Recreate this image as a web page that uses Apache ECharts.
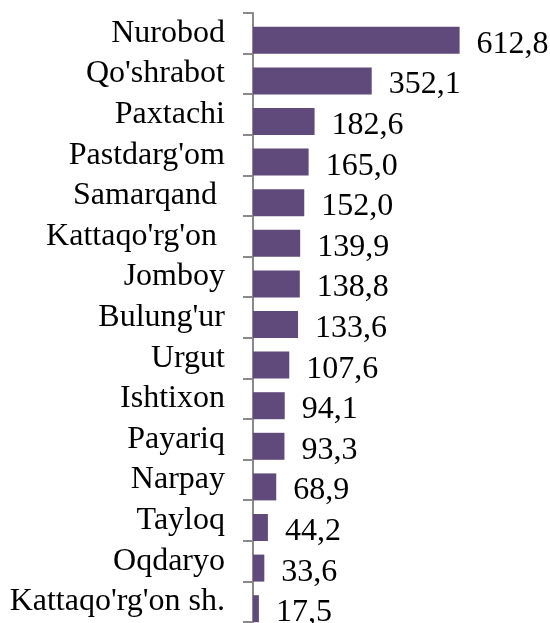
<!DOCTYPE html>
<html>
<head>
<meta charset="utf-8">
<script src="https://cdn.jsdelivr.net/npm/echarts@6/dist/echarts.min.js"></script>
<style>
  html, body { margin: 0; padding: 0; background: #fff; }
  #chart { width: 550px; height: 623px; }
</style>
</head>
<body>
<div id="chart"></div>
<script>
// tumanlar
var districts = ['Nurobod', "Qo'shrabot", 'Paxtachi', "Pastdarg'om", 'Samarqand ', "Kattaqo'rg'on ",
  'Jomboy', "Bulung'ur", 'Urgut', 'Ishtixon', 'Payariq', 'Narpay', 'Tayloq', 'Oqdaryo', "Kattaqo'rg'on sh."];
var values = [612.8, 352.1, 182.6, 165.0, 152.0, 139.9, 138.8, 133.6, 107.6, 94.1, 93.3, 68.9, 44.2, 33.6, 17.5];

var serif = 'Liberation Serif';
var chart = echarts.init(document.getElementById('chart'));

// 0 - o'q va yozuvlar uchun, 1 - ustunlar uchun (pastga biroz surilgan)
chart.setOption({
  animation: false,
  textStyle: { fontFamily: serif },
  grid: [
    { left: 253, right: 61, top: 13, bottom: 1, outerBoundsMode: 'none' },
    { left: 253, right: 61, top: 20, bottom: -6, outerBoundsMode: 'none' }
  ],
  xAxis: [
    { type: 'value', gridIndex: 0, min: 0, max: 700, show: false },
    { type: 'value', gridIndex: 1, min: 0, max: 700, show: false }
  ],
  yAxis: [{
    type: 'category',
    gridIndex: 0,
    inverse: true,
    data: districts,
    axisLine: { show: true, lineStyle: { color: '#898989', width: 2 } },
    axisTick: { show: true, length: 10, lineStyle: { color: '#898989', width: 2 } },
    axisLabel: {
      interval: 0,
      hideOverlap: false,
      margin: 28,
      color: '#000',
      fontFamily: serif,
      fontSize: 32,
      padding: [0, 0, 0, 0],
      lineHeight: 32
    }
  }, {
    type: 'category',
    gridIndex: 1,
    inverse: true,
    data: districts,
    show: false
  }],
  series: [{
    type: 'bar',
    xAxisIndex: 1,
    yAxisIndex: 1,
    data: values,
    barWidth: 27,
    itemStyle: { color: '#60497b' },
    label: {
      show: true,
      position: 'right',
      distance: 17,
      offset: [0, 4],
      color: '#000',
      fontFamily: serif,
      fontSize: 32,
      formatter: function (p) { return p.value.toFixed(1).replace('.', ','); }
    }
  }]
});
</script>
</body>
</html>
